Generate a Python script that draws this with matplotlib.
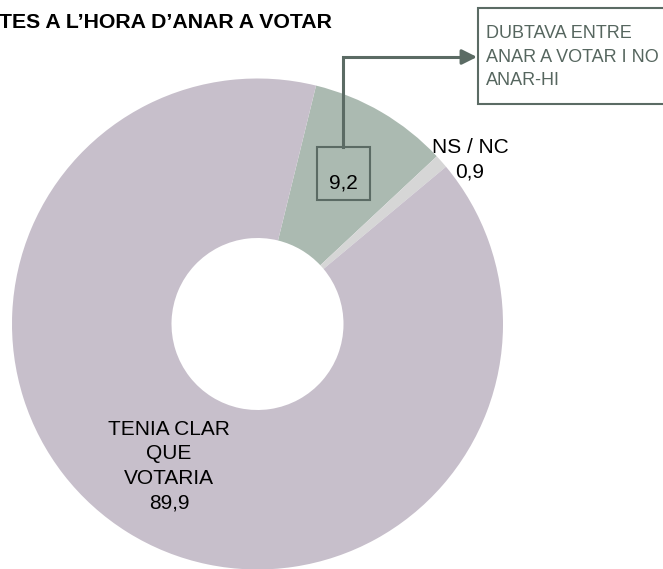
import matplotlib
matplotlib.use("Agg")
import matplotlib.pyplot as plt
from matplotlib.patches import Rectangle

plt.rcParams['font.family'] = ['Liberation Sans', 'DejaVu Sans']

# data
labels = ["DUBTAVA ENTRE\nANAR A VOTAR I NO\nANAR-HI", "NS / NC", "TENIA CLAR\nQUE\nVOTARIA"]
values = [9.2, 0.9, 89.9]
colors = ["#ABBAB1", "#D6D6D6", "#C7BFCB"]
value_text = ["9,2", "0,9", "89,9"]

W, H = 663, 569


def Y(y):
    # pixel row -> axes y
    return H - y


fig = plt.figure(figsize=(W / 100, H / 100), dpi=100)
ax = fig.add_axes([0, 0, 1, 1])

ax.pie(values, colors=colors, startangle=76.2, counterclock=False,
       radius=245.5, center=(257.5, Y(324)),
       wedgeprops=dict(width=245.5 - 86, linewidth=0))
ax.set_xlim(0, W)
ax.set_ylim(0, H)
ax.axis('off')

edge = "#5B6B64"

# title (cut at left edge as in the original)
ax.text(-1, Y(22), "TES A L’HORA D’ANAR A VOTAR", fontsize=15.3,
        fontweight='bold', ha='left', va='center', color='black')

# big slice label
ax.text(169, Y(466), labels[2] + "\n" + value_text[2], fontsize=15,
        ha='center', va='center', linespacing=1.36)

# NS / NC label
ax.text(470, Y(160), labels[1] + "\n" + value_text[1], fontsize=15,
        ha='center', va='center', linespacing=1.36)

# 9,2 box with leader line to the callout
ax.add_patch(Rectangle((317, Y(200)), 53, 53, facecolor='none',
                       edgecolor=edge, linewidth=1.5))
ax.text(343.5, Y(183), value_text[0], fontsize=15, ha='center', va='center')
ax.plot([343, 343, 466], [Y(147), Y(57), Y(57)], color=edge, linewidth=2.2,
        solid_joinstyle='miter')
ax.annotate("", xy=(477, Y(57)), xytext=(462, Y(57)),
            arrowprops=dict(arrowstyle='-|>,head_length=0.9,head_width=0.45',
                            color=edge, linewidth=2.2, shrinkA=0, shrinkB=0))

# callout box
ax.add_patch(Rectangle((478, Y(104)), 200, 96, facecolor='white',
                       edgecolor=edge, linewidth=1.5, clip_on=False))
ax.text(486, Y(57), labels[0], fontsize=13, color="#56665F",
        ha='left', va='center', linespacing=1.5)

fig.savefig("out.png", dpi=100)
